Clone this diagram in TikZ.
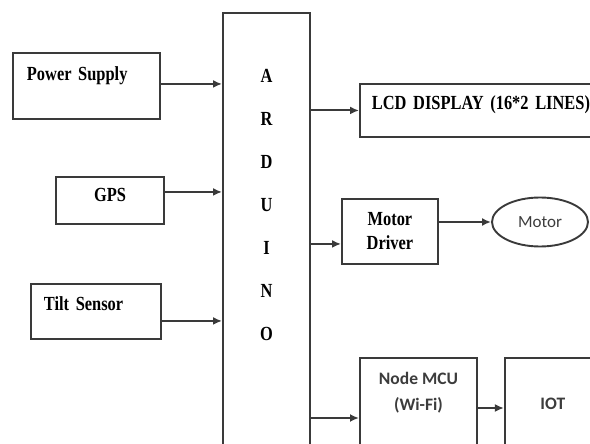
\documentclass[tikz,border=0pt]{standalone}
\usepackage{fontspec}
\usepackage{xcolor}
\usepackage{tikz}
\usetikzlibrary{arrows.meta, positioning, shapes.geometric}
\newfontfamily\blockfont[FakeStretch=0.82, WordSpace=0.75]{Liberation Serif}
\newfontfamily\calfont{Carlito}
\definecolor{edge}{RGB}{58,58,58}
\definecolor{softtext}{RGB}{60,60,60}

\begin{document}
\begin{tikzpicture}[
    x=1pt, y=-1pt,
    line width=1.9pt,
    block/.style={rectangle, draw=edge, inner sep=0pt, anchor=north west, font=\blockfont\bfseries\fontsize{20}{24}\selectfont},
    sansblock/.style={block, font=\calfont\bfseries\fontsize{17.5}{26}\selectfont, text=softtext},
    flow/.style={draw=edge, -{Latex[length=9pt,width=8pt]}}
]
\useasboundingbox (0,0) rectangle (590,444);

% inputs
\node[block, text width=119pt, inner xsep=14pt, align=left, text height=28pt, text depth=38pt] (power) at (12,52) {Power Supply};
\node[block, text width=108pt, align=center, text height=24.5pt, text depth=22.5pt] (gps) at (55,176) {GPS};
\node[block, text width=104pt, inner xsep=13pt, align=left, text height=27pt, text depth=28pt] (tilt) at (30,283) {Tilt Sensor};

% controller
\node[block, minimum width=87pt, text height=70pt, text depth=390pt] (arduino) at (222,12)
    {\fontsize{20}{43}\selectfont\begin{tabular}[t]{@{}c@{}}A\\R\\D\\U\\I\\N\\O\end{tabular}};

% outputs
\node[block, text width=222pt, inner xsep=12pt, align=left, text height=26pt, text depth=27pt] (lcd) at (359,83) {LCD DISPLAY (16*2 LINES)};
\node[block, minimum width=96pt, minimum height=65pt, align=center] (driver) at (341,198) {Motor\\Driver};
\node[ellipse, draw=edge, minimum width=96pt, minimum height=49pt, inner sep=0pt, font=\calfont\fontsize{17}{20}\selectfont, text=softtext] (motor) at (540,222) {Motor};
\node[sansblock, minimum width=117pt, text height=27pt, text depth=86pt] (mcu) at (359,357)
    {\begin{tabular}[t]{@{}c@{}}Node MCU\\(Wi-Fi)\end{tabular}};
\node[sansblock, minimum width=96pt, minimum height=92pt, right=26pt of mcu.north east, anchor=north west] (iot) {IOT};

\draw[flow] ([yshift=2pt]power.east) -- ([yshift=2pt]power.east -| arduino.west);
\draw[flow] ([yshift=8.5pt]gps.east) -- ([yshift=8.5pt]gps.east -| arduino.west);
\draw[flow] ([yshift=-9.5pt]tilt.east) -- ([yshift=-9.5pt]tilt.east -| arduino.west);
\draw[flow] (lcd.west -| arduino.east) -- (lcd.west);
\draw[flow] ([yshift=-12.5pt]driver.west -| arduino.east) -- ([yshift=-12.5pt]driver.west);
\draw[flow] (motor.west -| driver.east) -- (motor.west);
\draw[flow] ([yshift=-61pt]mcu.north west -| arduino.east) -- ([yshift=-61pt]mcu.north west);
\draw[flow] ([yshift=-51pt]mcu.north east) -- ([yshift=-51pt]mcu.north east -| iot.west);
\end{tikzpicture}
\end{document}
